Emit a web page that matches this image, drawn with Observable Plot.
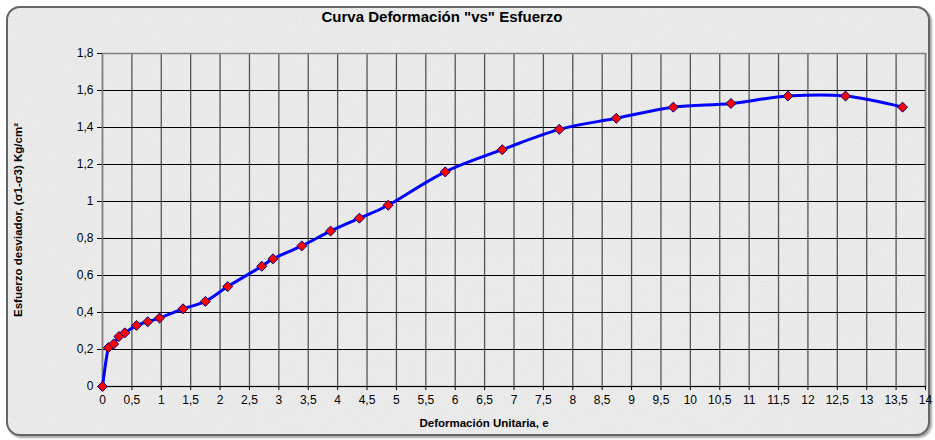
<!DOCTYPE html>
<html>
<head>
<meta charset="utf-8">
<script src="https://cdn.jsdelivr.net/npm/d3@7"></script>
<script src="https://cdn.jsdelivr.net/npm/@observablehq/plot@0.6"></script>
<style>
  html, body { margin: 0; padding: 0; background: #ffffff; }
  #wrap { position: relative; width: 935px; height: 440px; overflow: hidden; font-family: "Liberation Sans", Arial, sans-serif; }
  #panel {
    position: absolute; left: 6px; top: 6px; width: 920px; height: 426px;
    border: 2px solid #656565; border-radius: 14px;
    background-color: #ececec;
    box-shadow: 2px 2px 2px rgba(0,0,0,0.35);
  }
  #noise { position: absolute; left: 0; top: 0; width: 100%; height: 100%; border-radius: 12px; }
  #title { position: absolute; left: 0; width: 884px; top: 8px; text-align: center; font-weight: bold; font-size: 15px; color: #000; }
  #xlabel { position: absolute; left: 0; width: 968px; top: 417px; text-align: center; font-weight: bold; font-size: 11.5px; color: #000; }
  #chart { position: absolute; left: 0; top: 0; width: 935px; height: 440px; }
</style>
</head>
<body>
<div id="wrap">
  <div id="panel">
    <svg id="noise" xmlns="http://www.w3.org/2000/svg">
      <filter id="nf">
        <feTurbulence type="fractalNoise" baseFrequency="0.9" numOctaves="2" seed="3"/>
        <feColorMatrix type="matrix" values="0 0 0 0 0.5  0 0 0 0 0.5  0 0 0 0 0.5  0 0 0 0.9 -0.35"/>
      </filter>
      <rect width="100%" height="100%" filter="url(#nf)" opacity="0.4"/>
    </svg>
  </div>
  <div id="chart"></div>
  <div id="title">Curva Deformación "vs" Esfuerzo</div>
  <div id="xlabel">Deformación Unitaria, e</div>
</div>
<script>
// Data
const deformacion = [0, 0.10, 0.19, 0.28, 0.38, 0.58, 0.77, 0.97, 1.37, 1.75, 2.13, 2.71, 2.90, 3.39, 3.88, 4.37, 4.86, 5.83, 6.80, 7.77, 8.74, 9.71, 10.69, 11.66, 12.64, 13.61];
const esfuerzo    = [0, 0.21, 0.23, 0.27, 0.29, 0.33, 0.35, 0.37, 0.42, 0.46, 0.54, 0.65, 0.69, 0.76, 0.84, 0.91, 0.98, 1.16, 1.28, 1.39, 1.45, 1.51, 1.53, 1.57, 1.57, 1.51];
const xTicks = [0,0.5,1,1.5,2,2.5,3,3.5,4,4.5,5,5.5,6,6.5,7,7.5,8,8.5,9,9.5,10,10.5,11,11.5,12,12.5,13,13.5,14];
const yTicks = [0,0.2,0.4,0.6,0.8,1,1.2,1.4,1.6,1.8];
const yLabel = "Esfuerzo desviador, (σ1-σ3) Kg/cm²";

const data = deformacion.map((x, i) => ({x, y: esfuerzo[i]}));
const fmt = d => String(+d.toFixed(2)).replace(".", ",");

const plot = Plot.plot({
  width: 935,
  height: 440,
  marginLeft: 102,
  marginRight: 10,
  marginTop: 53,
  marginBottom: 54,
  style: { fontFamily: "'Liberation Sans', Arial, sans-serif", fontSize: "12px", background: "transparent", color: "#000", overflow: "visible" },
  x: { domain: [0, 14] },
  y: { domain: [0, 1.8] },
  marks: [
    Plot.gridX(xTicks, { stroke: "#555", strokeOpacity: 1, strokeWidth: 1.3 }),
    Plot.gridY(yTicks, { stroke: "#000", strokeOpacity: 1, strokeWidth: 1 }),
    Plot.frame({ stroke: "#808080", strokeWidth: 1.5 }),
    Plot.axisX(xTicks, { tickFormat: fmt, tickSize: 4, tickPadding: 5, label: null, fontSize: 12 }),
    Plot.axisY(yTicks, { tickFormat: fmt, tickSize: 5, tickPadding: 4, label: null, fontSize: 12 }),
    Plot.ruleY([0], { stroke: "#000" }),
    Plot.line(data, { x: "x", y: "y", curve: "cardinal", stroke: "#0000ff", strokeWidth: 3 }),
    Plot.dot(data, { x: "x", y: "y", symbol: "diamond2", r: 4.5, fill: "#ff0000", stroke: "#000080", strokeWidth: 1 }),
    Plot.text([yLabel], { frameAnchor: "left", dx: -84, rotate: -90, text: d => d, fontWeight: "bold", fontSize: 11.5, textAnchor: "middle" })
  ]
});
document.getElementById("chart").appendChild(plot);
</script>
</body>
</html>
